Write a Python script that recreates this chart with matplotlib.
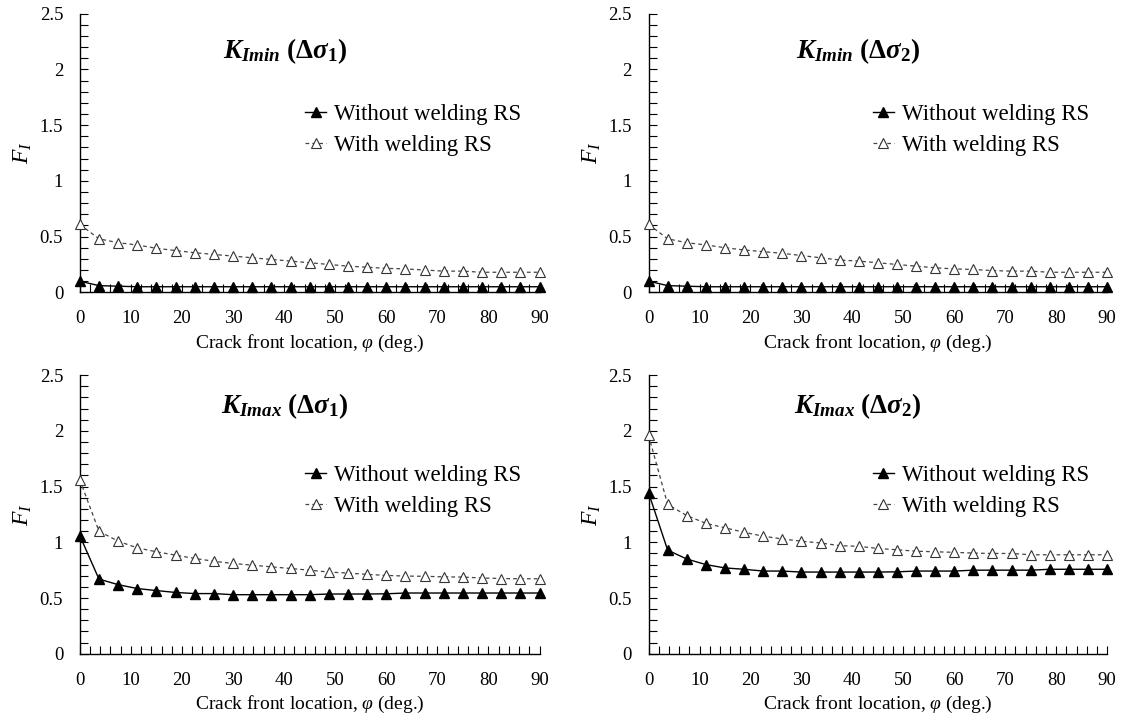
import numpy as np
import matplotlib
matplotlib.use("Agg")
import matplotlib.pyplot as plt
from matplotlib.ticker import MultipleLocator

plt.rcParams['font.family'] = ['Liberation Serif', 'DejaVu Serif']
plt.rcParams['mathtext.fontset'] = 'custom'
plt.rcParams['mathtext.rm'] = 'Liberation Serif'
plt.rcParams['mathtext.it'] = 'Liberation Serif:italic'
plt.rcParams['mathtext.bf'] = 'Liberation Serif:bold'
plt.rcParams['mathtext.bfit'] = 'Liberation Serif:bold:italic'

# crack front angle (deg.)
phi = [0, 3.75, 7.5, 11.25, 15, 18.75, 22.5, 26.25, 30, 33.75, 37.5, 41.25, 45,
       48.75, 52.5, 56.25, 60, 63.75, 67.5, 71.25, 75, 78.75, 82.5, 86.25, 90]

kmin1_without = [0.10, 0.06, 0.055, 0.05, 0.05, 0.05, 0.05, 0.05, 0.05, 0.05, 0.05, 0.05, 0.05,
                 0.05, 0.05, 0.05, 0.05, 0.05, 0.05, 0.05, 0.05, 0.05, 0.05, 0.05, 0.05]
kmin1_with = [0.61, 0.48, 0.445, 0.425, 0.395, 0.375, 0.355, 0.34, 0.325, 0.31, 0.295, 0.28, 0.265,
              0.25, 0.235, 0.225, 0.215, 0.21, 0.20, 0.19, 0.19, 0.18, 0.18, 0.18, 0.18]

kmin2_without = [0.10, 0.06, 0.055, 0.05, 0.05, 0.05, 0.05, 0.05, 0.05, 0.05, 0.05, 0.05, 0.05,
                 0.05, 0.05, 0.05, 0.05, 0.05, 0.05, 0.05, 0.05, 0.05, 0.05, 0.05, 0.05]
kmin2_with = [0.61, 0.48, 0.445, 0.425, 0.40, 0.38, 0.365, 0.35, 0.33, 0.31, 0.29, 0.28, 0.265,
              0.25, 0.235, 0.22, 0.21, 0.205, 0.195, 0.19, 0.19, 0.18, 0.18, 0.18, 0.18]

kmax1_without = [1.06, 0.67, 0.62, 0.585, 0.567, 0.55, 0.54, 0.54, 0.53, 0.53, 0.53, 0.53, 0.53,
                 0.536, 0.536, 0.536, 0.538, 0.545, 0.545, 0.545, 0.545, 0.545, 0.545, 0.545, 0.545]
kmax1_with = [1.56, 1.10, 1.01, 0.95, 0.915, 0.885, 0.855, 0.83, 0.81, 0.795, 0.78, 0.765, 0.75,
              0.733, 0.724, 0.712, 0.703, 0.697, 0.695, 0.69, 0.688, 0.68, 0.675, 0.673, 0.673]

kmax2_without = [1.445, 0.93, 0.85, 0.80, 0.77, 0.758, 0.742, 0.742, 0.733, 0.733, 0.733, 0.733, 0.733,
                 0.735, 0.742, 0.742, 0.742, 0.75, 0.75, 0.75, 0.75, 0.758, 0.758, 0.758, 0.758]
kmax2_with = [1.96, 1.34, 1.24, 1.17, 1.13, 1.09, 1.055, 1.03, 1.01, 0.994, 0.97, 0.964, 0.945,
              0.933, 0.92, 0.915, 0.91, 0.903, 0.9, 0.9, 0.888, 0.888, 0.888, 0.888, 0.888]

titles = [r'$\mathbfit{K}_{\mathbfit{Imin}}\ \mathbf{(\Delta}\mathbfit{\sigma}_{\mathbf{1}}\mathbf{)}$',
          r'$\mathbfit{K}_{\mathbfit{Imin}}\ \mathbf{(\Delta}\mathbfit{\sigma}_{\mathbf{2}}\mathbf{)}$',
          r'$\mathbfit{K}_{\mathbfit{Imax}}\ \mathbf{(\Delta}\mathbfit{\sigma}_{\mathbf{1}}\mathbf{)}$',
          r'$\mathbfit{K}_{\mathbfit{Imax}}\ \mathbf{(\Delta}\mathbfit{\sigma}_{\mathbf{2}}\mathbf{)}$']
series = [(kmin1_without, kmin1_with), (kmin2_without, kmin2_with),
          (kmax1_without, kmax1_with), (kmax2_without, kmax2_with)]

fig = plt.figure(figsize=(11.24, 7.2), dpi=100)
rects = [[0.071, 0.594, 0.409, 0.387], [0.577, 0.594, 0.408, 0.387],
         [0.071, 0.092, 0.409, 0.387], [0.577, 0.092, 0.408, 0.387]]
title_pos = [(0.447, 0.865), (0.457, 0.865), (0.447, 0.888), (0.457, 0.888)]

for i in range(4):
    ax = fig.add_axes(rects[i])
    without, with_rs = series[i]
    ax.plot(phi, without, '-', color='black', lw=1.0, marker='^', ms=7.5,
            mfc='black', mec='black', label='Without welding RS', clip_on=False, zorder=3)
    ax.plot(phi, with_rs, '--', color='#444444', lw=0.9, dashes=(3, 2.5), marker='^', ms=7.5,
            mfc='white', mec='#333333', mew=0.8, label='With welding RS', clip_on=False, zorder=3)
    ax.set_xlim(0, 90)
    ax.set_ylim(0, 2.5)
    ax.xaxis.set_major_locator(MultipleLocator(10))
    ax.xaxis.set_minor_locator(MultipleLocator(2))
    ax.yaxis.set_major_locator(MultipleLocator(0.5))
    ax.yaxis.set_minor_locator(MultipleLocator(0.1))
    ax.yaxis.set_major_formatter(plt.FuncFormatter(lambda v, p: f'{v:g}'))
    ax.spines['top'].set_visible(False)
    ax.spines['right'].set_visible(False)
    ax.tick_params(which='both', direction='in', length=6, width=0.8, labelsize=13.5)
    ax.tick_params(axis='y', which='both', pad=12)
    ax.tick_params(axis='x', which='both', pad=13)
    for s in ax.spines.values():
        s.set_linewidth(1.0)
    ax.set_xlabel(r'Crack front location, $\varphi$ (deg.)', fontsize=14, labelpad=4)
    ax.set_ylabel(r'$F_I$', fontsize=17, labelpad=4)
    ax.text(title_pos[i][0], title_pos[i][1], titles[i], transform=ax.transAxes,
            ha='center', va='center', fontsize=19.5)
    ax.legend(loc='upper right', bbox_to_anchor=(0.98, 0.71), frameon=False,
              fontsize=16.5, handlelength=0.9, handletextpad=0.35, labelspacing=0.45,
              borderaxespad=0.0)

fig.savefig('out.png', dpi=100)
